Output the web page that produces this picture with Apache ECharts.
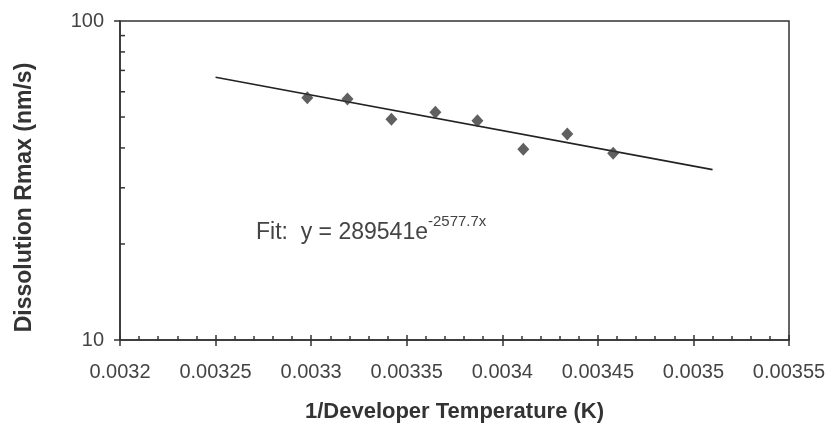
<!DOCTYPE html>
<html lang="en">
<head>
    <meta charset="UTF-8">
    <title>Dissolution Rmax</title>
    <script src="https://cdn.jsdelivr.net/npm/echarts@6/dist/echarts.min.js"></script>
</head>
<body style="margin:0;background:#fff;">

    <div id="main" style="width: 835px;height:430px;"></div>

    <script type="text/javascript">
        // measured points (1/T, Rmax)
        var invTemp = [0.003298, 0.003319, 0.003342, 0.003365, 0.003387, 0.003411, 0.003434, 0.003458];
        var rmax = [57.5, 57.0, 49.2, 51.8, 48.7, 39.6, 44.2, 38.5];

        // fit line ends
        var fitX = [0.00325, 0.00351];
        var fitY = [66.6, 34.2];

        // log minor ticks on the y axis
        var yMinor = [20, 30, 40, 50, 60, 70, 80, 90];

        var font = '"Liberation Sans", Arial, sans-serif';
        var ink = '#333';

        var points = invTemp.map(function (x, i) { return [x, rmax[i]]; });
        var fitLine = fitX.map(function (x, i) { return [x, fitY[i]]; });

        var myChart = echarts.init(document.getElementById('main'));

        var option = {
            animation: false,
            grid: {
                left: 120, right: 46, top: 21, bottom: 90,
                show: true, borderColor: ink, borderWidth: 1.5
            },
            xAxis: [{
                type: 'value',
                min: 0.0032, max: 0.00355, interval: 0.00005,
                name: '1/Developer Temperature (K)',
                nameLocation: 'middle', nameGap: 61,
                nameTextStyle: { fontFamily: font, fontSize: 22, fontWeight: 'bold', color: ink },
                axisLine: { lineStyle: { color: ink, width: 1.5 } },
                axisTick: { inside: true, length: 5, lineStyle: { color: ink, width: 1.5 } },
                minorTick: { show: true, splitNumber: 5, length: 4, lineStyle: { color: ink, width: 1.5 } },
                axisLabel: {
                    fontFamily: font, fontSize: 20, color: '#444', margin: 22,
                    formatter: function (v) { return String(+v.toFixed(5)); }
                },
                splitLine: { show: false }
            }, {
                type: 'value',
                position: 'bottom',
                min: 0.0032, max: 0.00355, interval: 0.00005,
                axisLine: { show: false },
                axisTick: { length: 6, lineStyle: { color: ink, width: 1.5 } },
                axisLabel: { show: false },
                splitLine: { show: false }
            }],
            yAxis: {
                type: 'log',
                min: 10, max: 100, logBase: 10,
                name: 'Dissolution Rmax (nm/s)',
                nameLocation: 'middle', nameGap: 84, nameRotate: 90,
                nameTextStyle: {
                    fontFamily: font, fontSize: 23, fontWeight: 'bold', color: ink,
                    padding: [0, 34, 0, 0]
                },
                axisLine: { lineStyle: { color: ink, width: 1.5 } },
                axisTick: { length: 6, lineStyle: { color: ink, width: 1.5 } },
                axisLabel: { fontFamily: font, fontSize: 20, color: '#444', margin: 16 },
                splitLine: { show: false }
            },
            series: [{
                type: 'line',
                data: fitLine,
                symbol: 'none',
                lineStyle: { color: '#222', width: 1.6 },
                z: 3
            }, {
                type: 'scatter',
                data: points,
                symbol: 'diamond',
                symbolSize: [12, 13],
                itemStyle: { color: '#383838' },
                z: 4
            }, {
                type: 'custom',
                data: yMinor.map(function (v) { return [0.0032, v]; }),
                renderItem: function (params, api) {
                    var p = api.coord([api.value(0), api.value(1)]);
                    return {
                        type: 'line',
                        shape: { x1: p[0], y1: p[1], x2: p[0] + 5, y2: p[1] },
                        style: { stroke: ink, lineWidth: 1.5 }
                    };
                },
                silent: true,
                z: 2
            }],
            graphic: [{
                type: 'text',
                left: 256, top: 214,
                style: {
                    text: '{m|Fit:  y = 289541e}{s|-2577.7x}',
                    fill: '#444',
                    rich: {
                        m: { fontFamily: font, fontSize: 23, lineHeight: 30, verticalAlign: 'bottom' },
                        s: { fontFamily: font, fontSize: 15, lineHeight: 30, verticalAlign: 'top', padding: [0, 0, 14, 0] }
                    }
                }
            }]
        };

        myChart.setOption(option);
    </script>
</body>
</html>
